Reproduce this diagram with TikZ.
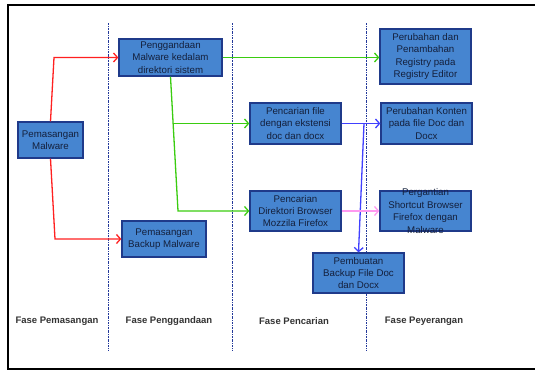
\documentclass[tikz,border=0pt]{standalone}
\usepackage{fontspec}
\setmainfont{Liberation Sans}
\usetikzlibrary{arrows.meta}
\definecolor{boxfill}{HTML}{4685D0}
\definecolor{boxline}{HTML}{1F3A8A}
\definecolor{boxtext}{HTML}{14203C}
\definecolor{sepline}{HTML}{23399A}
\definecolor{flowred}{HTML}{FF2020}
\definecolor{flowgreen}{HTML}{3ACC10}
\definecolor{flowblue}{HTML}{4040FF}
\definecolor{flowpink}{HTML}{FF99F0}
\tikzset{
  stage/.style={draw=boxline, line width=1.3pt, fill=boxfill, inner sep=0pt,
    label={[font=\fontsize{9.7}{12.4}\selectfont, text=boxtext, align=center]center:#1}},
  separator/.style={sepline, line width=1pt, dash pattern=on 2pt off 1pt on 0.6pt off 1pt},
  phase/.style={font=\fontsize{9.5}{12}\selectfont\bfseries, text=black!80},
  flow/.style={line width=1.3pt, -{Straight Barb[length=4pt,width=9pt]}},
}
\begin{document}
\begin{tikzpicture}[x=1pt, y=-1pt]
\useasboundingbox (0,0) rectangle (535,372);
% outer frame
\draw[line width=2pt] (8,5) rectangle (545,369);

% phase separators
\foreach \x/\n in {108/sepA, 232/sepB, 366/sepC} {
  \coordinate (\n top) at (\x,23);
  \coordinate (\n bot) at (\x,351);
  \draw[separator] (\n top) -- (\n bot);
}

% stages
\node[stage={Pemasangan\\Malware}, minimum width=65pt, minimum height=36pt] (inst) at (50.5,140) {};
\node[stage={Penggandaan\\Malware kedalam\\direktori sistem}, minimum width=103pt, minimum height=37pt] (copy) at (170.5,57.5) {};
\node[stage={Pemasangan\\Backup Malware}, minimum width=84pt, minimum height=36pt] (backup) at (164,239) {};
\node[stage={Pencarian file\\dengan ekstensi\\doc dan docx}, minimum width=91pt, minimum height=41pt] (search) at (295.5,123.5) {};
\node[stage={Pencarian\\Direktori Browser\\Mozzila Firefox}, minimum width=91pt, minimum height=40pt] (browser) at (295.5,211) {};
\node[stage={Perubahan dan\\Penambahan\\Registry pada\\Registry Editor}, minimum width=91pt, minimum height=55pt] (registry) at (425.5,56.5) {};
\node[stage={Perubahan Konten\\pada file Doc dan\\Docx}, minimum width=91pt, minimum height=41pt] (content) at (426.5,123.5) {};
\node[stage={Pergantian\\Shortcut Browser\\Firefox dengan\\Malware}, minimum width=91pt, minimum height=40pt] (shortcut) at (425.5,211) {};
\node[stage={Pembuatan\\Backup File Doc\\dan Docx}, minimum width=91pt, minimum height=40pt] (docbak) at (358.5,273) {};

% phase titles
\node[phase] (p1) at (57,321) {Fase Pemasangan};
\node[phase] (p2) at (169,321) {Fase Penggandaan};
\node[phase] (p3) at (294,321) {Fase Pencarian};
\node[phase] (p4) at (424,321) {Fase Peyerangan};

% bend points
\coordinate (r1) at (54,57.5);
\coordinate (r2) at (55,239);
\coordinate (g1) at (178,211);
\coordinate (g2) at (173.2,123.5);
\coordinate (b1) at (364,123.5);

% connectors
\draw[flow, flowred] (inst.north) -- (r1) -- (copy.west);
\draw[flow, flowred] (inst.south) -- (r2) -- (backup.west);
\draw[flow, flowgreen] (copy.east) -- (copy.east -| registry.west);
\draw[flow, flowgreen] (copy.south) -- (g1) -- (browser.west);
\draw[flow, flowgreen] (g2) -- (search.west);
\draw[flow, flowblue] (search.east) -- (content.west);
\draw[flow, flowblue] (b1) -- (docbak.north);
\draw[flow, flowpink] (browser.east) -- (shortcut.west);
\end{tikzpicture}
\end{document}
